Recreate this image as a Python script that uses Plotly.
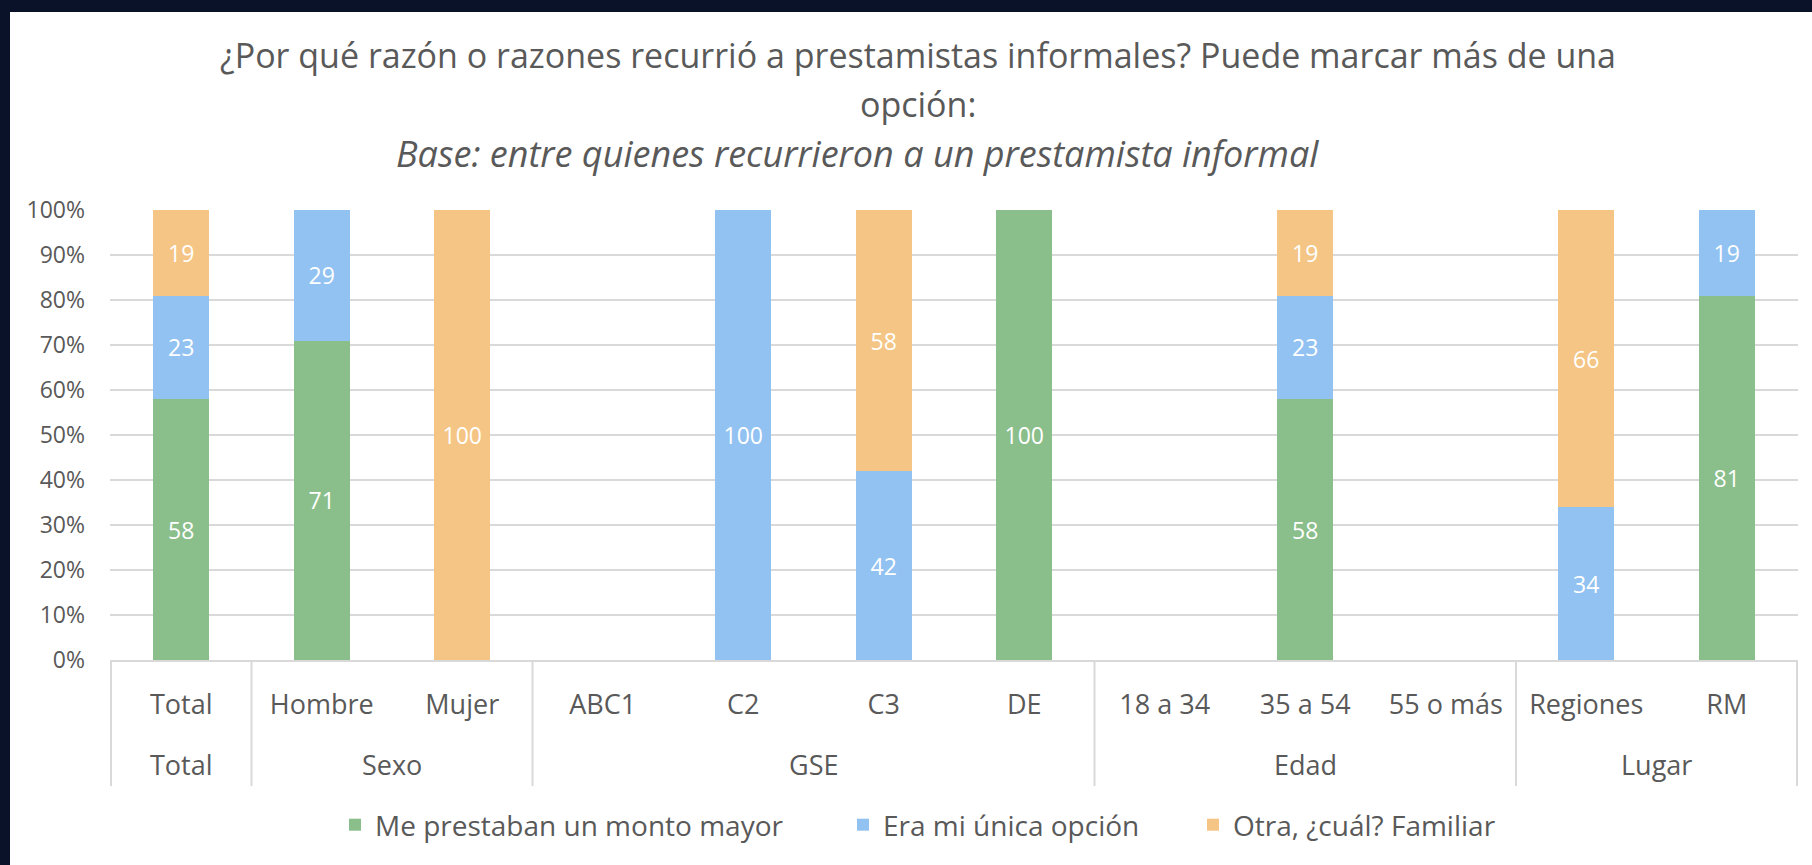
import plotly.graph_objects as go

# ---------------- data ----------------
categories = ["Total", "Hombre", "Mujer", "ABC1", "C2", "C3", "DE",
              "18 a 34", "35 a 54", "55 o más", "Regiones", "RM"]
groups = ["Total", "Sexo", "Sexo", "GSE", "GSE", "GSE", "GSE",
          "Edad", "Edad", "Edad", "Lugar", "Lugar"]
series_names = ["Me prestaban un monto mayor", "Era mi única opción",
                "Otra, ¿cuál? Familiar"]
monto_mayor = [58, 71, 0, 0, 0, 0, 100, 0, 58, 0, 0, 81]
unica_opcion = [23, 29, 0, 0, 100, 42, 0, 0, 23, 0, 34, 19]
familiar = [19, 0, 100, 0, 0, 58, 0, 0, 19, 0, 66, 0]
y_ticks = [0, 10, 20, 30, 40, 50, 60, 70, 80, 90, 100]
y_tick_labels = [f"{v}%" for v in y_ticks]
title_l1 = "¿Por qué razón o razones recurrió a prestamistas informales? Puede marcar más de una"
title_l2 = "opción:"
subtitle = "<i>Base</i>: entre quienes recurrieron a un prestamista informal"

# ---------------- style ----------------
W, H = 1812, 865
ML, MR, MT, MB = 110, 14, 210, 205
PW, PH = W - ML - MR, H - MT - MB
FONT = "Open Sans"
GRAY = "#595959"
GRID = "#d9d9d9"
DARK = "#0a1229"
colors = ["#8abe8b", "#92c2f1", "#f4c584"]


def px_x(px):
    return (px - ML) / PW


def px_y(py):
    return (H - MB - py) / PH


fig = go.Figure()
all_series = [monto_mayor, unica_opcion, familiar]
legend_ids = ["legend", "legend2", "legend3"]
for name, vals, col, lg in zip(series_names, all_series, colors, legend_ids):
    fig.add_trace(go.Bar(
        x=categories, y=vals, name=name, marker_color=col,
        marker_line_width=0,
        text=[str(v) if v else "" for v in vals],
        textposition="inside", insidetextanchor="middle", textangle=0,
        textfont=dict(family=FONT, size=23, color="white"),
        cliponaxis=False, legend=lg, hoverinfo="skip",
    ))

# group dividers and labels
bounds = [-0.5]
for i in range(1, len(groups)):
    if groups[i] != groups[i - 1]:
        bounds.append(i - 0.5)
bounds.append(len(groups) - 0.5)

shapes = [dict(type="rect", xref="paper", yref="paper",
               x0=px_x(10), x1=px_x(W + 5), y0=px_y(12), y1=px_y(H + 5),
               fillcolor="white", line_width=0, layer="below")]
for b in bounds:
    shapes.append(dict(type="line", xref="x", yref="paper", x0=b, x1=b,
                       y0=0, y1=px_y(786), line=dict(color=GRID, width=2)))

annotations = []
seen = []
for g in groups:
    if g not in seen:
        seen.append(g)
for g in seen:
    idx = [i for i, gg in enumerate(groups) if gg == g]
    annotations.append(dict(x=sum(idx) / len(idx), y=px_y(764), xref="x", yref="paper",
                            text=g, showarrow=False, yanchor="middle",
                            font=dict(family=FONT, size=27, color=GRAY)))

annotations += [
    dict(x=px_x(918), y=px_y(55), xref="paper", yref="paper", text=title_l1,
         showarrow=False, yanchor="middle", font=dict(family=FONT, size=34, color=GRAY)),
    dict(x=px_x(918), y=px_y(104), xref="paper", yref="paper", text=title_l2,
         showarrow=False, yanchor="middle", font=dict(family=FONT, size=34, color=GRAY)),
    dict(x=px_x(857), y=px_y(153), xref="paper", yref="paper", text=subtitle,
         showarrow=False, yanchor="middle",
         font=dict(family=FONT, size=36, color=GRAY, style="italic")),
]

legend_x = [347, 855, 1205]
leg_common = dict(orientation="h", yanchor="middle", xanchor="left",
                  bgcolor="rgba(0,0,0,0)", font=dict(family=FONT, size=28, color=GRAY),
                  itemwidth=30)

fig.update_layout(
    width=W, height=H,
    margin=dict(l=ML, r=MR, t=MT, b=MB),
    paper_bgcolor=DARK, plot_bgcolor="white",
    barmode="stack", bargap=0.6,
    showlegend=True,
    legend=dict(x=px_x(legend_x[0] - 12), y=px_y(825), **leg_common),
    legend2=dict(x=px_x(legend_x[1] - 12), y=px_y(825), **leg_common),
    legend3=dict(x=px_x(legend_x[2] - 12), y=px_y(825), **leg_common),
    xaxis=dict(type="category", showline=True, linecolor=GRID, linewidth=2,
               showgrid=False, ticks="", ticklabelstandoff=20,
               tickfont=dict(family=FONT, size=27, color=GRAY)),
    yaxis=dict(range=[0, 100], tickmode="array", tickvals=y_ticks, ticktext=y_tick_labels,
               showgrid=True, gridcolor=GRID, gridwidth=2, zeroline=False,
               showline=False, ticks="", ticklabelstandoff=24,
               tickfont=dict(family=FONT, size=23, color=GRAY)),
    shapes=shapes, annotations=annotations,
)

fig.write_html("out.html", config={"displayModeBar": False}, post_script=(
    "document.body.style.margin='0';document.body.style.padding='0';"
    "document.body.style.overflow='hidden';"
    "document.body.style.background='" + DARK + "';"
))
